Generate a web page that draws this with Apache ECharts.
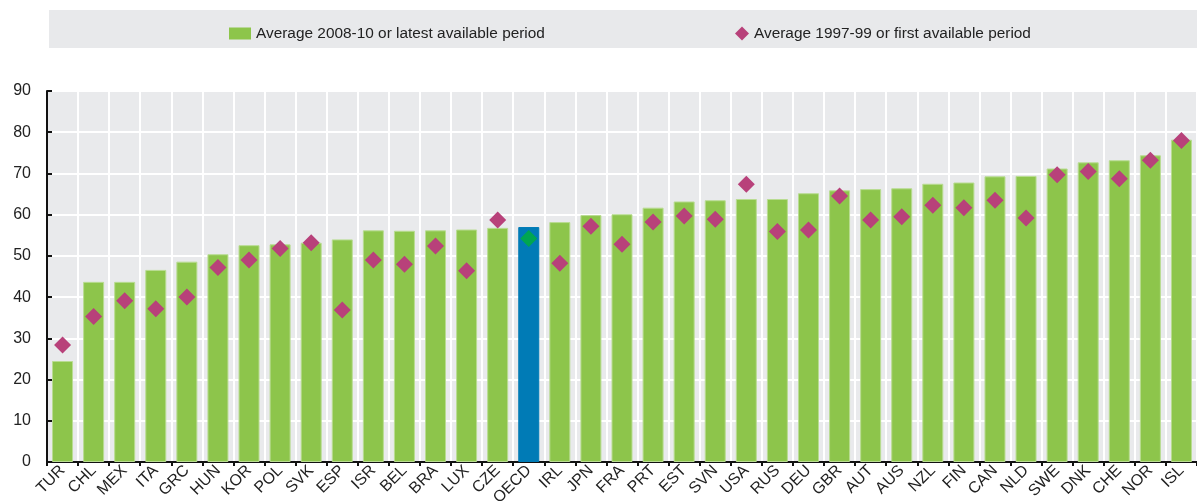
<!DOCTYPE html>
<html>
<head>
<meta charset="utf-8">
<script src="https://cdn.jsdelivr.net/npm/echarts@6/dist/echarts.min.js"></script>
<style>
html,body{margin:0;padding:0;background:#fff;}
#c{width:1197px;height:501px;}
</style>
</head>
<body>
<div id="c"></div>
<script>
var categories = ['TUR','CHL','MEX','ITA','GRC','HUN','KOR','POL','SVK','ESP','ISR','BEL','BRA','LUX','CZE','OECD','IRL','JPN','FRA','PRT','EST','SVN','USA','RUS','DEU','GBR','AUT','AUS','NZL','FIN','CAN','NLD','SWE','DNK','CHE','NOR','ISL'];
var latest = [24.5,43.7,43.7,46.6,48.6,50.4,52.6,52.8,53.2,54.0,56.2,56.1,56.2,56.4,56.8,57.0,58.2,59.9,60.1,61.7,63.2,63.5,63.8,63.8,65.2,65.9,66.2,66.4,67.5,67.8,69.3,69.4,71.2,72.7,73.2,74.4,78.2];
var first = [28.4,35.3,39.1,37.2,40.0,47.2,49.0,51.8,53.2,36.9,49.0,48.0,52.4,46.4,58.7,54.2,48.2,57.2,52.8,58.2,59.7,58.9,67.4,55.9,56.3,64.5,58.7,59.5,62.3,61.7,63.5,59.2,69.7,70.5,68.7,73.2,78.0];
var yTicks = [0,10,20,30,40,50,60,70,80,90];
var seriesNames = ['Average 2008-10 or latest available period','Average 1997-99 or first available period'];
var highlight = 'OECD';

var FONT = '"Liberation Sans Narrow", "Liberation Sans", Arial, sans-serif';
var GREEN = '#8dc54b', BLUE = '#007bb6', PINK = '#b8417a', DGREEN = '#00a651';

var barData = latest.map(function(v,i){
  return categories[i] === highlight ? {value:v, itemStyle:{color:BLUE, borderColor:BLUE}} : v;
});
var dotData = first.map(function(v,i){
  return categories[i] === highlight ? {value:v, itemStyle:{color:DGREEN}} : v;
});

var chart = echarts.init(document.getElementById('c'), null, {renderer:'canvas'});
chart.setOption({
  animation:false,
  backgroundColor:'#ffffff',
  textStyle:{fontFamily:FONT},
  graphic:[{type:'rect', shape:{x:49, y:10, width:1148, height:38}, style:{fill:'#e8e9eb'}, z:0, silent:true}],
  legend:[
    {data:[{name:seriesNames[0], icon:'rect', itemStyle:{color:GREEN, borderWidth:0}}], left:224, top:21, itemWidth:22, itemHeight:12, itemGap:8,
     textStyle:{fontFamily:FONT, fontSize:15.4, color:'#222'}, z:5},
    {data:[{name:seriesNames[1], icon:'diamond', itemStyle:{color:PINK, opacity:1}}], left:730, top:21, itemWidth:14, itemHeight:14, itemGap:6,
     textStyle:{fontFamily:FONT, fontSize:15.4, color:'#222'}, z:5}
  ],
  grid:{left:47, right:0, top:91, bottom:39, show:true, backgroundColor:'#e9eaec', borderWidth:0, containLabel:false, outerBoundsMode:'none'},
  xAxis:{
    type:'category', data:categories,
    axisLine:{lineStyle:{color:'#111', width:2}},
    axisTick:{show:true, length:4, lineStyle:{color:'#111', width:2}},
    axisLabel:{rotate:45, fontSize:16, color:'#222', fontFamily:FONT, margin:6},
    splitLine:{show:true, lineStyle:{color:'#ffffff', width:2}}
  },
  yAxis:{
    type:'value', min:yTicks[0], max:yTicks[yTicks.length-1], interval:10,
    axisLine:{show:true, lineStyle:{color:'#111', width:2}},
    axisTick:{show:true, inside:true, length:5, lineStyle:{color:'#111', width:2}},
    axisLabel:{fontSize:16, color:'#222', fontFamily:FONT, margin:16},
    splitLine:{show:true, lineStyle:{color:'#ffffff', width:2}}
  },
  series:[
    {name:seriesNames[0], type:'bar', data:barData, barWidth:21,
     itemStyle:{color:GREEN, borderColor:'#b9dc92', borderWidth:1}, z:2},
    {name:seriesNames[1], type:'scatter', data:dotData, symbol:'diamond', symbolSize:17,
     itemStyle:{color:PINK, opacity:1}, z:3}
  ]
});
</script>
</body>
</html>
